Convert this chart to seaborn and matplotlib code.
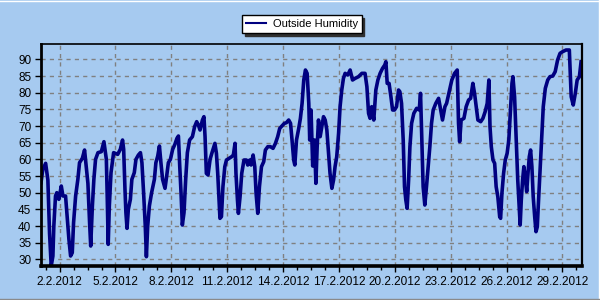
import numpy as np
import pandas as pd
import matplotlib
matplotlib.use("Agg")
import matplotlib.pyplot as plt
import matplotlib.dates as mdates
from matplotlib.lines import Line2D
import seaborn as sns

# ---- data (days since 1.2.2012 00:00, relative humidity %) ----
days = [0.00, 0.10, 0.25, 0.37, 0.46, 0.55, 0.64, 0.69, 0.78, 0.85, 0.96, 1.09, 1.18, 1.32, 1.39,
        1.50, 1.59, 1.68, 1.75, 1.86, 1.98, 2.07, 2.22, 2.34, 2.43, 2.52, 2.61, 2.67, 2.76, 2.84,
        2.93, 3.06, 3.24, 3.38, 3.51, 3.56, 3.61, 3.67, 3.76, 3.90, 4.12, 4.26, 4.38, 4.44, 4.51,
        4.56, 4.62, 4.69, 4.80, 4.88, 5.01, 5.10, 5.23, 5.34, 5.42, 5.51, 5.60, 5.66, 5.73, 5.82,
        5.94, 6.09, 6.17, 6.27, 6.36, 6.44, 6.53, 6.66, 6.75, 6.84, 6.95, 7.07, 7.19, 7.30, 7.38,
        7.45, 7.52, 7.59, 7.68, 7.77, 7.86, 7.98, 8.13, 8.25, 8.36, 8.45, 8.54, 8.67, 8.75, 8.81,
        8.88, 8.97, 9.08, 9.20, 9.34, 9.42, 9.49, 9.56, 9.61, 9.69, 9.77, 9.87, 9.96, 10.10, 10.24,
        10.33, 10.42, 10.47, 10.55, 10.60, 10.69, 10.78, 10.90, 11.03, 11.10, 11.21, 11.28, 11.39,
        11.48, 11.55, 11.64, 11.73, 11.84, 11.96, 12.05, 12.18, 12.32, 12.46, 12.59, 12.71, 12.82,
        12.94, 13.07, 13.18, 13.30, 13.40, 13.48, 13.57, 13.63, 13.72, 13.84, 13.93, 14.02, 14.11,
        14.20, 14.29, 14.38, 14.43, 14.50, 14.59, 14.69, 14.76, 14.83, 14.90, 14.99, 15.08, 15.17,
        15.26, 15.35, 15.44, 15.52, 15.62, 15.71, 15.79, 15.88, 15.98, 16.06, 16.15, 16.24, 16.33,
        16.47, 16.60, 16.73, 16.87, 17.05, 17.23, 17.40, 17.50, 17.59, 17.67, 17.76, 17.87, 17.98,
        18.09, 18.21, 18.34, 18.46, 18.52, 18.59, 18.69, 18.79, 18.88, 18.98, 19.09, 19.20, 19.27,
        19.36, 19.45, 19.52, 19.59, 19.66, 19.74, 19.81, 19.90, 20.02, 20.17, 20.31, 20.38, 20.45,
        20.52, 20.61, 20.70, 20.79, 20.88, 20.97, 21.06, 21.20, 21.35, 21.46, 21.56, 21.69, 21.78,
        21.94, 22.06, 22.21, 22.35, 22.42, 22.48, 22.56, 22.71, 22.83, 22.96, 23.07, 23.19, 23.28,
        23.37, 23.46, 23.61, 23.73, 23.85, 23.96, 24.05, 24.11, 24.18, 24.27, 24.36, 24.44, 24.53,
        24.63, 24.68, 24.75, 24.84, 24.93, 25.03, 25.12, 25.20, 25.29, 25.34, 25.43, 25.52, 25.57,
        25.60, 25.68, 25.73, 25.79, 25.86, 25.93, 26.00, 26.08, 26.15, 26.22, 26.29, 26.36, 26.43,
        26.51, 26.58, 26.65, 26.70, 26.79, 26.90, 26.97, 27.08, 27.21, 27.33, 27.48, 27.61, 27.74,
        27.87, 28.01, 28.19, 28.37, 28.42, 28.47, 28.58, 28.69, 28.79, 28.91, 29.00]
humidity = [53.0, 57.0, 58.8, 53.8, 37.8, 28.0, 31.0, 40.0, 49.0, 50.0, 48.0, 52.0, 49.0, 49.0, 44.0,
            36.0, 31.0, 32.0, 41.0, 49.0, 54.0, 59.0, 60.3, 62.8, 57.8, 52.8, 41.0, 34.0, 46.0, 54.0,
            60.0, 62.0, 62.3, 65.3, 60.0, 48.0, 34.5, 46.0, 56.0, 62.0, 61.5, 63.0, 65.8, 63.0, 51.0,
            44.0, 39.3, 45.0, 48.0, 54.0, 56.0, 60.0, 61.3, 62.0, 59.0, 50.0, 40.0, 30.8, 40.0, 46.0,
            50.0, 54.0, 59.0, 61.0, 64.0, 59.0, 54.0, 51.3, 55.0, 59.0, 60.0, 63.0, 64.5, 66.3, 67.0,
            58.0, 50.0, 40.3, 44.0, 54.0, 62.0, 65.8, 66.8, 69.8, 71.3, 70.3, 68.8, 71.8, 72.8, 66.8,
            55.8, 55.3, 60.0, 62.3, 64.8, 61.8, 55.8, 47.8, 42.3, 42.8, 51.8, 57.8, 59.8, 60.3, 60.8,
            61.3, 64.8, 55.8, 47.8, 43.8, 48.8, 55.8, 59.8, 59.8, 58.3, 59.8, 58.3, 61.3,
            57.8, 49.8, 43.8, 51.8, 57.8, 59.3, 62.8, 63.8, 63.8, 63.3, 64.8, 66.8, 69.3,
            70.0, 70.8, 71.0, 71.8, 70.8, 65.8, 59.8, 58.3, 65.8, 69.3, 72.3, 76.8, 83.8,
            86.8, 85.8, 76.8, 65.8, 74.8, 58.0, 65.8, 52.8, 63.8, 71.8, 66.8, 69.8, 72.8,
            71.8, 68.8, 61.8, 55.8, 51.3, 53.8, 57.8, 60.8, 67.8, 75.8, 80.8, 84.3, 85.8,
            85.3, 86.8, 83.8, 84.3, 84.8, 85.8, 85.8, 81.8, 73.8, 72.3, 75.8, 71.8, 80.8,
            83.8, 85.8, 87.3, 88.3, 89.3, 82.8, 82.8, 78.8, 74.8, 74.8, 75.8, 80.8, 80.3,
            76.8, 65.8, 51.8, 47.8, 45.3, 53.8, 63.8, 70.8, 73.8, 75.3, 74.8, 79.8, 65.8,
            51.8, 46.3, 51.8, 57.8, 63.8, 70.8, 74.8, 76.8, 78.3, 74.8, 71.8, 75.8, 76.8,
            80.8, 83.8, 85.8, 86.8, 70.8, 65.3, 71.8, 72.3, 75.8, 77.8, 78.3, 82.8, 79.8,
            75.8, 71.8, 71.3, 72.3, 74.3, 76.8, 83.8, 69.8, 63.8, 59.8, 58.8, 51.8, 48.8,
            42.8, 42.3, 49.8, 55.8, 59.8, 61.8, 65.8, 73.8, 82.8, 84.8, 78.8, 65.8, 58.8,
            53.8, 45.8, 40.3, 47.8, 53.8, 57.8, 54.8, 50.3, 55.8, 60.8, 62.8, 57.8, 48.8,
            42.8, 38.3, 39.8, 45.8, 55.8, 67.8, 75.8, 81.3, 83.8, 84.8, 85.0, 86.3, 89.8,
            91.8, 92.3, 92.8, 92.8, 85.8, 78.8, 76.3, 79.8, 83.8, 84.8, 89.3]
y_ticks = [30, 35, 40, 45, 50, 55, 60, 65, 70, 75, 80, 85, 90]
series_label = "Outside Humidity"
start = pd.Timestamp("2012-02-01")

df = pd.DataFrame({
    "time": start + pd.to_timedelta(days, unit="D"),
    "humidity": humidity,
})

BG = "#A6CAF0"
NAVY = "#000080"
plt.rcParams["font.family"] = ["Liberation Sans", "DejaVu Sans"]
plt.rcParams["font.size"] = 8

fig = plt.figure(figsize=(6, 3), dpi=100, facecolor=BG)
ax = fig.add_axes([0.0683, 0.1133, 0.9017, 0.74])
ax.set_facecolor(BG)

sns.lineplot(data=df, x="time", y="humidity", ax=ax, color=NAVY, lw=2.6,
             label=series_label, legend=False, estimator=None)

ax.set_xlim(start, start + pd.Timedelta(days=29.05))
ax.set_ylim(28, 94.6)
ax.set_xlabel("")
ax.set_ylabel("")

ax.set_yticks(y_ticks)
ax.xaxis.set_major_locator(mdates.DayLocator(bymonthday=range(2, 30, 3)))
ax.xaxis.set_major_formatter(
    plt.FuncFormatter(lambda v, p: (lambda d: f"{d.day}.{d.month}.{d.year}")(mdates.num2date(v))))
m0 = mdates.date2num(pd.Timestamp("2012-02-02"))
ax.xaxis.set_minor_locator(plt.FixedLocator(np.arange(m0 - 0.75, m0 + 28, 0.75)))

ax.grid(True, which="major", color="#808080", linestyle=(0, (3, 3)), linewidth=1)
ax.tick_params(axis="both", which="major", length=4, width=1, color="black",
               labelsize=8.5, labelcolor="black", pad=3)
ax.tick_params(axis="x", which="minor", length=3, width=1, color="black")

for side, w in [("left", 2.0), ("bottom", 2.6), ("top", 1.2), ("right", 1.6)]:
    ax.spines[side].set_color("black")
    ax.spines[side].set_linewidth(w)

handle = Line2D([0], [0], color=NAVY, lw=1.5)
leg = fig.legend([handle], [series_label], loc="center", bbox_to_anchor=(0.503, 0.92),
                 frameon=True, fancybox=False, edgecolor="black", facecolor="white",
                 framealpha=1, shadow={"color": "#303030", "alpha": 1.0},
                 handlelength=1.8, borderpad=0.35, handletextpad=0.6, fontsize=8)
leg.get_frame().set_linewidth(1)

# window-like border
fig.add_artist(Line2D([0, 1], [0.998, 0.998], color="white", lw=1, transform=fig.transFigure))
fig.add_artist(Line2D([0.998, 0.998], [0, 1], color="white", lw=1, transform=fig.transFigure))
fig.add_artist(Line2D([0, 1], [0.003, 0.003], color="#8a8a8a", lw=1, transform=fig.transFigure))

fig.savefig("out.png", dpi=100, facecolor=BG)
